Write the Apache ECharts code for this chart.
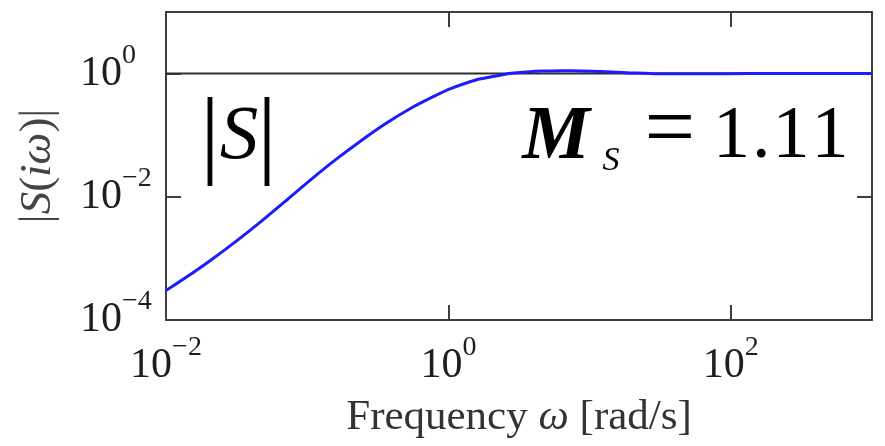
<!DOCTYPE html>
<html>
<head>
<meta charset="utf-8">
<script src="https://cdn.jsdelivr.net/npm/echarts@6/dist/echarts.min.js"></script>
<style>
  html, body { margin: 0; padding: 0; background: #ffffff; }
  #chart { width: 885px; height: 446px; }
</style>
</head>
<body>
<div id="chart"></div>
<script>
// Sensitivity function magnitude |S(iω)| over frequency (rad/s)
const omega = [0.01, 0.01364, 0.0205, 0.0308, 0.0463, 0.0697, 0.1047, 0.1574, 0.2366, 0.3556,
               0.5346, 0.8035, 1.026, 1.542, 2.317, 2.9, 3.97, 5.07, 6.48, 8.55,
               11.86, 20.3, 35.3, 60.5, 136.8, 1000];
const magnitude = [3.0e-4, 4.79e-4, 9.18e-4, 1.84e-3, 3.85e-3, 8.43e-3, 0.01853, 0.03936, 0.07925, 0.1521,
                   0.2692, 0.4355, 0.5649, 0.7816, 0.9397, 1.02, 1.086, 1.10, 1.11, 1.105,
                   1.086, 1.024, 0.99, 0.99, 1.0, 1.0];

// Unit-gain reference line
const unityOmega = [0.01, 1000];
const unityLevel = [1, 1];

// Axis ranges (decades)
const xRange = [0.01, 1000];
const yRange = [1e-4, 10];
const peakLabel = { symbol: 'M', sub: 'S', value: '1.11' };

const SERIF = '"Liberation Serif", "Times New Roman", serif';
const AXIS_COLOR = '#3d3d3d';
const LABEL_COLOR = '#1e1e1e';

function powerLabel(maxValue) {
  return function (v) {
    const e = Math.round(Math.log10(v));
    if (Math.abs(v - maxValue) / maxValue < 1e-6) return '';
    if (e % 2 !== 0) return '';
    const exp = e < 0 ? '\u2212' + (-e) : String(e);
    return '{b|10}{e|' + exp + '}';
  };
}

const tickRich = {
  b: { fontFamily: SERIF, fontSize: 42, lineHeight: 64, verticalAlign: 'middle', color: LABEL_COLOR },
  e: { fontFamily: SERIF, fontSize: 28, lineHeight: 28, verticalAlign: 'top', color: LABEL_COLOR }
};

const commonAxis = {
  type: 'log',
  logBase: 10,
  splitLine: { show: false },
  minorTick: { show: false },
  axisLine: { show: true, onZero: false, lineStyle: { color: AXIS_COLOR, width: 2 } },
  axisTick: { show: true, inside: true, length: 15, lineStyle: { color: AXIS_COLOR, width: 2 } }
};

const chart = echarts.init(document.getElementById('chart'), null, { renderer: 'canvas' });

chart.setOption({
  animation: false,
  backgroundColor: '#ffffff',
  grid: { left: 166, right: 13, top: 12, bottom: 126, containLabel: false },
  xAxis: [
    Object.assign({}, commonAxis, {
      position: 'bottom',
      min: xRange[0], max: xRange[1], interval: 2,
      name: '{n|Frequency }{w|ω}{n| [rad/s]}',
      nameLocation: 'middle',
      nameGap: 76,
      nameTextStyle: {
        fontFamily: SERIF, fontSize: 43, color: '#333333',
        rich: {
          n: { fontFamily: SERIF, fontSize: 43, color: '#333333' },
          w: { fontFamily: SERIF, fontSize: 43, fontStyle: 'italic', color: '#333333' }
        }
      },
      axisLabel: { show: true, margin: 14, formatter: powerLabel(xRange[1]), rich: tickRich }
    }),
    Object.assign({}, commonAxis, {
      position: 'top',
      min: xRange[0], max: xRange[1], interval: 2,
      axisLabel: { show: false }
    })
  ],
  yAxis: [
    Object.assign({}, commonAxis, {
      position: 'left',
      min: yRange[0], max: yRange[1], interval: 2,
      name: '{p||}{i|S}{p|(}{i|iω}{p|)}{p||}',
      nameLocation: 'middle',
      nameRotate: 90,
      nameGap: 105,
      nameTextStyle: {
        fontFamily: SERIF, fontSize: 45, color: '#444444',
        rich: {
          p: { fontFamily: SERIF, fontSize: 45, color: '#444444' },
          i: { fontFamily: SERIF, fontSize: 45, fontStyle: 'italic', color: '#444444' }
        }
      },
      axisLabel: { show: true, margin: 86, align: 'left', formatter: powerLabel(yRange[1]), rich: tickRich }
    }),
    Object.assign({}, commonAxis, {
      position: 'right',
      min: yRange[0], max: yRange[1], interval: 2,
      axisLabel: { show: false }
    })
  ],
  series: [
    {
      name: 'unity',
      type: 'line',
      xAxisIndex: 0, yAxisIndex: 0,
      data: unityOmega.map((w, i) => [w, unityLevel[i]]),
      showSymbol: false,
      lineStyle: { color: '#2e2e2e', width: 2 },
      z: 2,
      silent: true
    },
    {
      name: '|S|',
      type: 'line',
      xAxisIndex: 0, yAxisIndex: 0,
      data: omega.map((w, i) => [w, magnitude[i]]),
      smooth: 0.3,
      showSymbol: false,
      lineStyle: { color: '#1c1cff', width: 3 },
      z: 3,
      clip: true
    }
  ],
  graphic: [
    { type: 'text', x: 210, y: 140, style: { text: '|', font: '97px ' + SERIF, fill: '#000', align: 'center', verticalAlign: 'middle' } },
    { type: 'text', x: 239, y: 138, style: { text: 'S', font: 'italic 77px ' + SERIF, fill: '#000', align: 'center', verticalAlign: 'middle' } },
    { type: 'text', x: 267, y: 140, style: { text: '|', font: '97px ' + SERIF, fill: '#000', align: 'center', verticalAlign: 'middle' } },
    { type: 'text', x: 556, y: 138, style: { text: peakLabel.symbol, font: 'italic bold 76px ' + SERIF, fill: '#000', align: 'center', verticalAlign: 'middle' } },
    { type: 'text', x: 611, y: 161, style: { text: peakLabel.sub, font: 'italic 34px ' + SERIF, fill: '#000', align: 'center', verticalAlign: 'middle' } },
    { type: 'text', x: 670, y: 133, style: { text: '=', font: '90px ' + SERIF, fill: '#000', align: 'center', verticalAlign: 'middle' } },
    {
      type: 'text', x: 712, y: 138,
      style: {
        text: peakLabel.value.split('').map(c => '{d|' + c + '}').join(''),
        font: '74px ' + SERIF, fill: '#000', align: 'left', verticalAlign: 'middle',
        rich: { d: { font: '74px ' + SERIF, fill: '#000', padding: [0, 1, 0, 1] } }
      }
    }
  ]
});
</script>
</body>
</html>
